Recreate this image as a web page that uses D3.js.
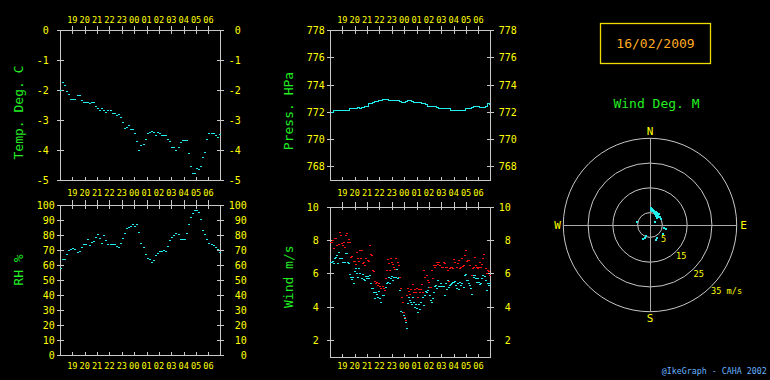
<!DOCTYPE html>
<html><head><meta charset="utf-8">
<script src="https://cdn.jsdelivr.net/npm/d3@7"></script>
<style>html,body{margin:0;padding:0;background:#000;overflow:hidden}svg{display:block}</style>
</head><body><svg id="c" width="770" height="380"></svg>
<script>
// ---------- DATA ----------
const hourLabels = ["19","20","21","22","23","00","01","02","03","04","05","06"];
const hourMinutes = [60,120,180,240,300,360,420,480,540,600,660,720]; // minutes after 18:00
const dateText = "16/02/2009";

// 10-minute samples starting 18:05
const tempValues = [-2.00,-1.74,-1.83,-2.03,-2.13,-2.31,-2.30,-2.30,-2.18,-2.18,
-2.32,-2.41,-2.41,-2.41,-2.43,-2.41,-2.41,-2.52,-2.59,-2.68,
-2.61,-2.66,-2.72,-2.68,-2.68,-2.78,-2.78,-2.82,-2.81,-2.91,
-3.07,-3.28,-3.22,-3.16,-3.31,-3.31,-3.42,-3.69,-4.00,-3.83,
-3.81,-3.62,-3.44,-3.39,-3.36,-3.40,-3.51,-3.41,-3.44,-3.51,
-3.51,-3.51,-3.62,-3.70,-3.90,-3.90,-4.00,-3.90,-3.72,-3.68,
-3.68,-3.66,-4.11,-4.54,-4.76,-4.76,-4.61,-4.63,-4.53,-4.24,
-4.06,-3.64,-3.42,-3.43,-3.44,-3.51,-3.56,-3.46];

const rhValues = [57.8,63.8,63.8,67.3,69.8,70.9,71.1,70.4,68.4,69.6,
72.0,73.8,73.8,77.3,73.6,75.1,76.0,78.4,80.9,77.8,
74.4,79.8,76.7,74.2,73.8,73.8,73.8,72.4,71.8,74.4,
78.2,81.3,84.9,85.3,86.2,87.1,86.0,87.1,81.8,74.4,
71.8,67.3,64.9,63.8,62.0,63.1,66.7,67.8,69.6,69.6,
69.8,69.3,72.7,76.7,78.9,80.2,81.1,80.4,77.1,77.1,
77.3,81.1,87.1,92.2,94.4,96.9,96.9,95.6,90.7,83.6,
80.9,77.1,74.9,73.8,73.3,71.8,70.9,68.4];

const pressValues = [772.02,772.1,772.15,772.15,772.15,772.15,772.15,772.15,772.15,772.27,
772.27,772.27,772.27,772.39,772.29,772.39,772.42,772.42,772.64,772.64,
772.71,772.78,772.78,772.83,772.83,772.95,772.95,772.95,772.83,772.83,
772.83,772.83,772.83,772.78,772.71,772.71,772.81,772.9,772.83,772.78,
772.71,772.71,772.71,772.71,772.66,772.66,772.56,772.46,772.46,772.42,
772.42,772.37,772.29,772.29,772.29,772.27,772.27,772.27,772.17,772.17,
772.17,772.17,772.17,772.17,772.17,772.29,772.29,772.29,772.34,772.42,
772.42,772.42,772.39,772.39,772.39,772.42,772.66,772.59];

// ~5-minute samples spread over 18:05 - 06:55
const windMax = [7.9,7.9,8.0,7.5,8.1,8.14,7.7,7.74,8.46,8.3,
7.8,7.7,7.9,7.6,8.3,8.4,7.9,8.06,7.86,7.0,
7.06,6.76,6.76,6.54,7.26,6.94,6.76,7.4,6.94,7.4,
6.6,6.7,6.5,6.94,6.8,6.76,7.7,7.14,7.1,6.2,
6.14,5.56,5.4,5.46,5.3,5.4,5.26,5.14,5.24,5.1,
5.0,5.74,6.2,6.84,6.6,6.2,6.94,6.7,6.56,6.4,
6.24,6.94,6.7,6.5,5.8,5.1,4.6,4.26,3.66,3.4,
3.2,4.7,5.1,4.94,4.74,5.06,5.34,4.86,5.06,4.9,
5.1,4.6,5.06,4.9,5.06,5.34,4.9,6.2,5.8,5.9,
5.58,5.5,5.2,5.2,6.2,5.74,6.5,6.4,6.5,6.66,
6.54,6.7,6.5,6.4,6.4,6.7,6.6,6.4,6.4,6.2,
5.54,6.34,6.4,6.4,6.3,6.86,6.7,6.4,6.6,6.8,
6.3,6.4,6.94,6.46,6.5,7.1,7.4,6.74,6.8,6.8,
6.5,5.9,6.3,6.4,6.96,6.5,6.4,6.34,6.4,6.7,
6.4,6.54,6.9,7.14,6.3,6.0,6.2,6.14,5.9];

const windAvg = [6.7,6.7,6.74,6.6,6.9,7.0,7.1,6.6,7.3,6.94,
6.9,6.7,6.66,6.66,7.2,7.2,6.66,6.6,5.94,5.8,
5.66,5.8,5.4,6.14,6.34,6.0,5.8,6.34,6.0,5.74,
5.94,5.64,5.6,5.86,5.7,5.86,5.74,5.9,5.4,5.14,
5.1,4.9,4.54,4.86,4.74,4.6,4.94,4.5,4.26,4.7,
4.7,5.0,5.2,5.4,5.46,5.8,5.4,5.7,5.86,5.6,
5.8,5.8,5.8,6.26,5.7,5.8,5.0,3.74,3.66,3.5,
3.3,3.06,2.7,4.2,4.6,4.4,4.26,4.14,4.6,4.26,
4.0,4.14,3.94,3.7,4.14,3.86,4.26,4.6,4.1,4.7,
4.94,4.9,5.0,5.2,4.7,4.4,4.26,4.5,4.9,5.26,
5.3,5.14,5.6,5.26,5.24,5.4,5.24,5.24,4.7,5.4,
5.06,5.6,5.2,5.3,5.34,5.4,5.5,5.5,5.54,5.3,
5.1,5.4,5.06,5.46,5.3,5.44,5.2,5.9,5.94,5.6,
5.58,5.4,5.3,5.14,4.74,5.9,5.8,5.9,5.74,5.5,
5.7,5.5,5.34,5.4,5.7,5.9,5.86,5.6,5.0,5.4,
5.3,5.4];

// wind rose points
const dirDeg   = [3,3,4,6,9,12,15,18,20,23,25,27,28,30,33,34,37,38,41,42,45,48,50,61,56,102,104,124,284,201,205,200,152,158];
const dirSpeed = [7.0,6.6,6.2,6.5,5.7,6.2,6.0,5.7,5.4,5.1,6.0,4.8,5.3,5.8,4.5,4.9,5.4,4.7,5.7,5.1,4.2,4.6,5.2,5.0,2.4,5.8,6.7,6.5,5.6,5.5,6.4,4.6,5.8,6.5];
const ringSpeeds = [5,15,25,35];

const tempTicks  = [0,-1,-2,-3,-4,-5];
const rhTicks    = [100,90,80,70,60,50,40,30,20,10,0];
const pressTicks = [778,776,774,772,770,768];
const windTicks  = [10,8,6,4,2];

// ---------- DRAWING ----------
const svg = d3.select("#c");
svg.append("rect").attr("width",770).attr("height",380).attr("fill","#000");
const MONO = "'DejaVu Sans Mono', 'Liberation Mono', monospace";
const YEL = "#ffff00", GRN = "#22ee22", CYAN = "#22eeee", GRID = "#c8c8c8", RED = "#ff1010";
const CW = 6.02; // char width at 10px

function panel(cfg){
  const g = svg.append("g");
  const L = cfg.left, T = cfg.top, W = 160, H = 150;
  const x = d3.scaleLinear().domain([0,776]).range([L, L+W]);
  const y = d3.scaleLinear().domain(cfg.domain).range([T+H, T]);
  cfg.x = x; cfg.y = y;
  g.append("rect").attr("x",L+0.5).attr("y",T+0.5).attr("width",W).attr("height",H)
    .attr("fill","none").attr("stroke",GRID).attr("stroke-width",1).attr("shape-rendering","crispEdges");
  hourMinutes.forEach(m=>{
    const xx = Math.round(x(m))+0.5;
    g.append("line").attr("x1",xx).attr("x2",xx).attr("y1",T-cfg.topOut).attr("y2",T+3.5)
      .attr("stroke",GRID).attr("shape-rendering","crispEdges");
    g.append("line").attr("x1",xx).attr("x2",xx).attr("y1",T+H-3).attr("y2",T+H+0.5)
      .attr("stroke",GRID).attr("shape-rendering","crispEdges");
  });
  cfg.labelRows.forEach(ly=>{
    g.selectAll(null).data(hourMinutes).enter().append("text")
      .attr("x",(m)=>x(m)).attr("y",ly).attr("text-anchor","middle").attr("dominant-baseline","central")
      .attr("font-family",MONO).attr("font-size","8.6px").attr("fill",YEL)
      .text((m,i)=>hourLabels[i]);
  });
  const maxC = d3.max(cfg.ticks,t=>String(t).length);
  cfg.ticks.forEach(t=>{
    const yy = Math.round(y(t))+0.5;
    g.append("line").attr("x1",L-3).attr("x2",L+4).attr("y1",yy).attr("y2",yy).attr("stroke",GRID).attr("shape-rendering","crispEdges");
    g.append("line").attr("x1",L+W-3).attr("x2",L+W+4).attr("y1",yy).attr("y2",yy).attr("stroke",GRID).attr("shape-rendering","crispEdges");
    g.append("text").attr("x",L-23.3+maxC*CW).attr("y",y(t)+0.5).attr("text-anchor","end").attr("dominant-baseline","central")
      .attr("font-family",MONO).attr("font-size","10px").attr("fill",YEL).text(String(t));
    g.append("text").attr("x",L+W+8.7+maxC*CW).attr("y",y(t)+0.5).attr("text-anchor","end").attr("dominant-baseline","central")
      .attr("font-family",MONO).attr("font-size","10px").attr("fill",YEL).text(String(t));
  });
  g.append("text").attr("transform",`translate(${cfg.titleX},${cfg.titleY}) rotate(-90)`)
    .attr("text-anchor","middle").attr("dominant-baseline","central")
    .attr("font-family",MONO).attr("font-size","13px").attr("fill",GRN).text(cfg.title);
  return cfg;
}

function dots(cfg, values, times, color, w){
  svg.append("g").selectAll(null).data(values).enter().append("rect")
    .attr("x",(d,i)=>Math.round(cfg.x(times(i)))-1)
    .attr("y",(d)=>Math.round(cfg.y(d)))
    .attr("width",w).attr("height",1.2).attr("fill",color).attr("shape-rendering","crispEdges");
}
const t10 = i => 5 + 10*i;

const pT = panel({left:60, top:30, domain:[-5,0], ticks:tempTicks, topOut:4.5, labelRows:[20,193.3], title:"Temp. Deg. C", titleX:18.5, titleY:112.5});
const pR = panel({left:60, top:205, domain:[0,100], ticks:rhTicks, topOut:5, labelRows:[365.5], title:"RH %", titleX:18.5, titleY:270});
const pP = panel({left:330, top:30, domain:[767,778], ticks:pressTicks, topOut:4.5, labelRows:[20,193.3], title:"Press. HPa", titleX:288.5, titleY:111});
const pW = panel({left:330, top:206.7, domain:[1,10], ticks:windTicks, topOut:5, labelRows:[365.5], title:"Wind m/s", titleX:288.5, titleY:276.7});

dots(pT, tempValues, t10, CYAN, 2);
dots(pR, rhValues, t10, CYAN, 2);
svg.append("path").datum(pressValues)
  .attr("d", d3.line().x((d,i)=>pP.x(t10(i))).y(d=>Math.round(pP.y(d))+0.5).curve(d3.curveStepAfter))
  .attr("fill","none").attr("stroke",CYAN).attr("stroke-width",1).attr("shape-rendering","crispEdges");
const tMax = d3.scaleLinear().domain([0, windMax.length-1]).range([5,775]);
const tAvg = d3.scaleLinear().domain([0, windAvg.length-1]).range([5,775]);
dots(pW, windAvg, i=>tAvg(i), CYAN, 1.5);
dots(pW, windMax, i=>tMax(i), RED, 1.5);

// ---------- date box ----------
svg.append("rect").attr("x",600.5).attr("y",23.5).attr("width",110).attr("height",40)
  .attr("fill","none").attr("stroke","#eedd00").attr("stroke-width",1.3);
svg.append("text").attr("x",655.5).attr("y",43.5).attr("text-anchor","middle").attr("dominant-baseline","central")
  .attr("font-family",MONO).attr("font-size","13px").attr("fill","#ffaa22").text(dateText);
svg.append("text").attr("x",656.5).attr("y",103).attr("text-anchor","middle").attr("dominant-baseline","central")
  .attr("font-family",MONO).attr("font-size","13px").attr("fill",GRN).text("Wind Deg. M");

// ---------- wind rose ----------
const cx = 650, cy = 225;
const r = d3.scaleLinear().domain([0,35]).range([0,86.7]);
const rose = svg.append("g");
rose.selectAll(null).data(ringSpeeds).enter().append("circle")
  .attr("cx",cx).attr("cy",cy).attr("r",d=>r(d)).attr("fill","none").attr("stroke",GRID).attr("stroke-width",1);
rose.append("line").attr("x1",cx-r(35)).attr("x2",cx+r(35)).attr("y1",cy+0.5).attr("y2",cy+0.5).attr("stroke","#aaaaaa").attr("shape-rendering","crispEdges");
rose.append("line").attr("x1",cx+0.5).attr("x2",cx+0.5).attr("y1",cy-r(35)+1).attr("y2",cy+r(35)).attr("stroke","#aaaaaa").attr("shape-rendering","crispEdges");
const comp = [["N",cx,131.7],["S",cx,318.7],["W",557.5,225.7],["E",743.5,225.7]];
rose.selectAll(null).data(comp).enter().append("text")
  .attr("x",d=>d[1]).attr("y",d=>d[2]).attr("text-anchor","middle").attr("dominant-baseline","central")
  .attr("font-family",MONO).attr("font-size","11px").attr("fill",YEL).text(d=>d[0]);
rose.selectAll(null).data(ringSpeeds).enter().append("text")
  .attr("x",d=>cx+(r(d)+7)*Math.SQRT1_2 - (d===35?5.2:0)).attr("y",d=>cy+(r(d)+7)*Math.SQRT1_2)
  .attr("text-anchor",d=>d===35?"start":"middle").attr("dominant-baseline","central")
  .attr("font-family",MONO).attr("font-size","8.6px").attr("fill",YEL).text(d=>d===35?d+" m/s":String(d));
rose.selectAll(null).data(dirDeg).enter().append("rect")
  .attr("x",(d,i)=>Math.round(cx + r(dirSpeed[i])*Math.sin(d*Math.PI/180))-1)
  .attr("y",(d,i)=>Math.round(cy - r(dirSpeed[i])*Math.cos(d*Math.PI/180))-1)
  .attr("width",2).attr("height",2).attr("fill",CYAN).attr("shape-rendering","crispEdges");

// footer
svg.append("text").attr("x",766.7).attr("y",371).attr("text-anchor","end").attr("dominant-baseline","central")
  .attr("font-family",MONO).attr("font-size","8.3px").attr("fill","#66b3ff").text("@IkeGraph - CAHA 2002");
</script></body></html>
